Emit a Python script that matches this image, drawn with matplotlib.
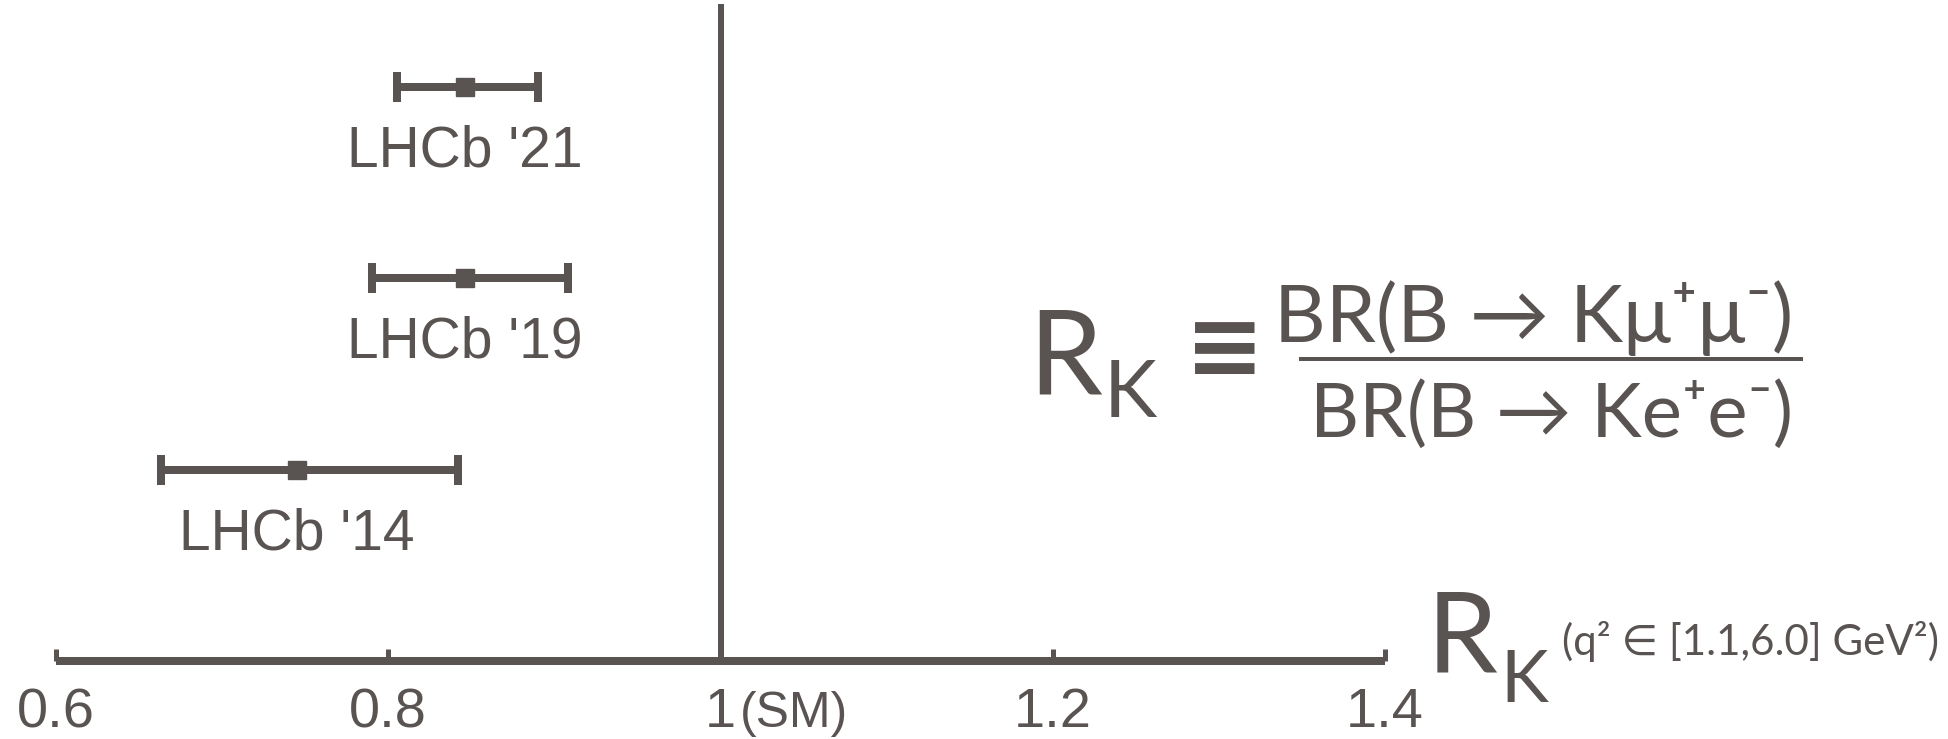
import matplotlib.pyplot as plt
from matplotlib.lines import Line2D

# R_K measurements (LHCb), central value with asymmetric total error
experiments = ["LHCb '14", "LHCb '19", "LHCb '21"]
rk_central = [0.745, 0.846, 0.846]
rk_err_low = [0.082, 0.056, 0.041]
rk_err_high = [0.097, 0.062, 0.044]
rows = [1, 2, 3]

sm_value = 1.0
tick_values = [0.6, 0.8, 1.0, 1.2, 1.4]
tick_labels = ["0.6", "0.8", "1", "1.2", "1.4"]

grey = "#595452"
W, H = 1948, 739
px = 72 / 100  # points per pixel at dpi 100

sans = ["Liberation Sans", "DejaVu Sans"]
lato = ["Lato", "DejaVu Sans"]

fig = plt.figure(figsize=(W / 100, H / 100), dpi=100)
ax = fig.add_axes([56 / W, 78 / H, (1385 - 56) / W, 661 / H])
ax.set_xlim(0.6, 1.4)
ax.set_ylim(0, 661 / 191.5)

for s in ["left", "right", "top"]:
    ax.spines[s].set_visible(False)
ax.spines["bottom"].set_linewidth(8 * px)
ax.spines["bottom"].set_color(grey)
ax.spines["bottom"].set_capstyle("butt")
ax.set_yticks([])
ax.set_xticks(tick_values)
ax.set_xticklabels([])
ax.tick_params(axis="x", direction="in", length=12 * px, width=5 * px, color=grey)

# SM line
ax.axvline(sm_value, ymin=0, ymax=0.99, color=grey, lw=6 * px)

# measurements
ax.errorbar(rk_central, rows, xerr=[rk_err_low, rk_err_high], fmt="s", color=grey,
            ms=18 * px, elinewidth=8 * px, capsize=15 * px, capthick=8 * px)
for x, y, name in zip(rk_central, rows, experiments):
    ax.annotate(name, (x, y), xytext=(0, -80 * px), textcoords="offset points",
                ha="center", va="baseline", fontsize=57 * px, color=grey,
                family=sans)

# tick labels
for v, lab in zip(tick_values, tick_labels):
    ax.annotate(lab, (v, 0), xytext=(0, -66 * px), textcoords="offset points",
                ha="center", va="baseline", fontsize=56 * px, color=grey,
                family=sans, annotation_clip=False)
ax.annotate("(SM)", (sm_value, 0), xytext=(19 * px, -66 * px), textcoords="offset points",
            ha="left", va="baseline", fontsize=50 * px, color=grey, family=sans,
            annotation_clip=False)


def ftext(x, y, s, size, family=lato, **kw):
    fig.text(x / W, 1 - y / H, s, fontsize=size * px, color=grey, family=family,
             va="baseline", **kw)


# axis label
ftext(1427, 673, "R", 113)
ftext(1500, 702, "K", 72)
ftext(1562, 655, "(q² ∈ [1.1,6.0] GeV²)", 42)

# definition
ftext(1028, 394, "R", 118)
ftext(1104, 417, "K", 80)
ftext(1225, 378, "≡", 95, family=["DejaVu Sans"], weight="bold", ha="center")
ftext(1534, 342, "BR(B → Kμ⁺μ⁻)", 80, ha="center")
ftext(1551, 437, "BR(B → Ke⁺e⁻)", 76, ha="center")
fig.add_artist(Line2D([1301 / W, 1801 / W], [1 - 359 / H, 1 - 359 / H],
                      color=grey, lw=4 * px))

fig.savefig("out.png", dpi=100)
